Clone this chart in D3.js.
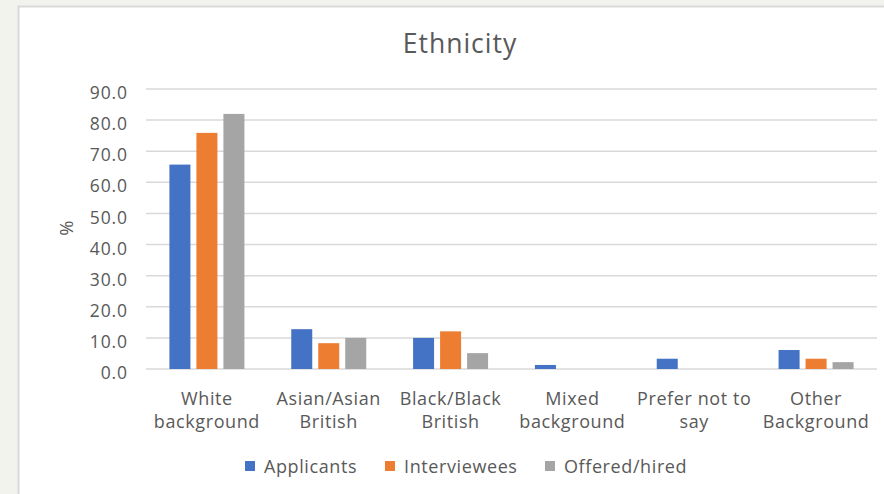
<!DOCTYPE html>
<html>
<head>
<meta charset="utf-8">
<script src="https://cdn.jsdelivr.net/npm/d3@7"></script>
<style>
  html, body { margin: 0; padding: 0; background: #f3f3ee; }
  svg { display: block; }
  text { font-family: "Open Sans", "Noto Sans", sans-serif; fill: #595959; }
</style>
</head>
<body>
<svg id="chart" width="884" height="494"></svg>
<script>
// Ethnicity breakdown (%) by recruitment stage
const categories = [
  ["White", "background"],
  ["Asian/Asian", "British"],
  ["Black/Black", "British"],
  ["Mixed", "background"],
  ["Prefer not to", "say"],
  ["Other", "Background"]
];
const seriesNames = ["Applicants", "Interviewees", "Offered/hired"];
const applicants   = [65.7, 12.8, 10.0, 1.3, 3.3, 6.1];
const interviewees = [75.9, 8.3, 12.1, 0, 0, 3.3];
const offered      = [82.0, 10.0, 5.1, 0, 0, 2.2];
const yTicks = [0, 10, 20, 30, 40, 50, 60, 70, 80, 90];
const colors = ["#4472c4", "#ed7d31", "#a5a5a5"];

const seriesValues = [applicants, interviewees, offered];
const svg = d3.select("#chart");

// chart panel
svg.append("rect")
  .attr("x", 18.5).attr("y", 6.5)
  .attr("width", 900).attr("height", 500)
  .attr("fill", "#ffffff")
  .attr("stroke", "#d9d9d9").attr("stroke-width", 2);

const plot = { left: 146, right: 877, top: 89, bottom: 369 };

const x = d3.scaleBand()
  .domain(d3.range(categories.length))
  .range([plot.left, plot.right]);

const y = d3.scaleLinear()
  .domain([0, 90])
  .range([plot.bottom, plot.top]);

const barW = 21, barStep = 27;

// gridlines
svg.append("g").selectAll("line")
  .data(yTicks)
  .join("line")
  .attr("x1", plot.left).attr("x2", plot.right)
  .attr("y1", d => y(d)).attr("y2", d => y(d))
  .attr("stroke", "#d9d9d9").attr("stroke-width", 1.5);

// y tick labels
const yAxis = d3.axisLeft(y).tickValues(yTicks).tickFormat(d3.format(".1f")).tickSize(0).tickPadding(0);
const yg = svg.append("g").attr("transform", `translate(${128},4)`).call(yAxis);
yg.select(".domain").remove();
yg.selectAll("text")
  .attr("font-size", 17.5)
  .attr("letter-spacing", "0.9px")
  .attr("fill", "#595959")
  .attr("font-family", "\"Open Sans\", \"Noto Sans\", sans-serif");

// bars
seriesValues.forEach((vals, s) => {
  svg.append("g").selectAll("rect")
    .data(vals.map((v, i) => ({ v, i })).filter(d => d.v > 0))
    .join("rect")
    .attr("x", d => x(d.i) + x.bandwidth() / 2 - barW / 2 + (s - 1) * barStep)
    .attr("y", d => y(d.v))
    .attr("width", barW)
    .attr("height", d => y(0) - y(d.v))
    .attr("fill", colors[s]);
});

// category labels
const catG = svg.append("g");
categories.forEach((lines, i) => {
  const cx = x(i) + x.bandwidth() / 2;
  const t = catG.append("text")
    .attr("x", cx)
    .attr("y", 405)
    .attr("text-anchor", "middle")
    .attr("font-size", 18)
    .attr("letter-spacing", "0.6px");
  lines.forEach((ln, k) => {
    t.append("tspan")
      .attr("x", cx)
      .attr("dy", k === 0 ? 0 : 22.7)
      .text(ln);
  });
});

// title
svg.append("text")
  .attr("x", 460).attr("y", 52.5)
  .attr("text-anchor", "middle")
  .attr("font-size", 26.5)
  .attr("letter-spacing", "1px")
  .text("Ethnicity");

// y axis title
svg.append("text")
  .attr("transform", "translate(73,228) rotate(-90)")
  .attr("text-anchor", "middle")
  .attr("font-size", 18.5)
  .text("%");

// legend
const legendX = [245, 385, 545];
seriesNames.forEach((name, s) => {
  svg.append("rect")
    .attr("x", legendX[s]).attr("y", 461)
    .attr("width", 10).attr("height", 10)
    .attr("fill", colors[s]);
  svg.append("text")
    .attr("x", legendX[s] + 19).attr("y", 472.5)
    .attr("font-size", 18)
    .attr("letter-spacing", "0.6px")
    .text(name);
});
</script>
</body>
</html>
